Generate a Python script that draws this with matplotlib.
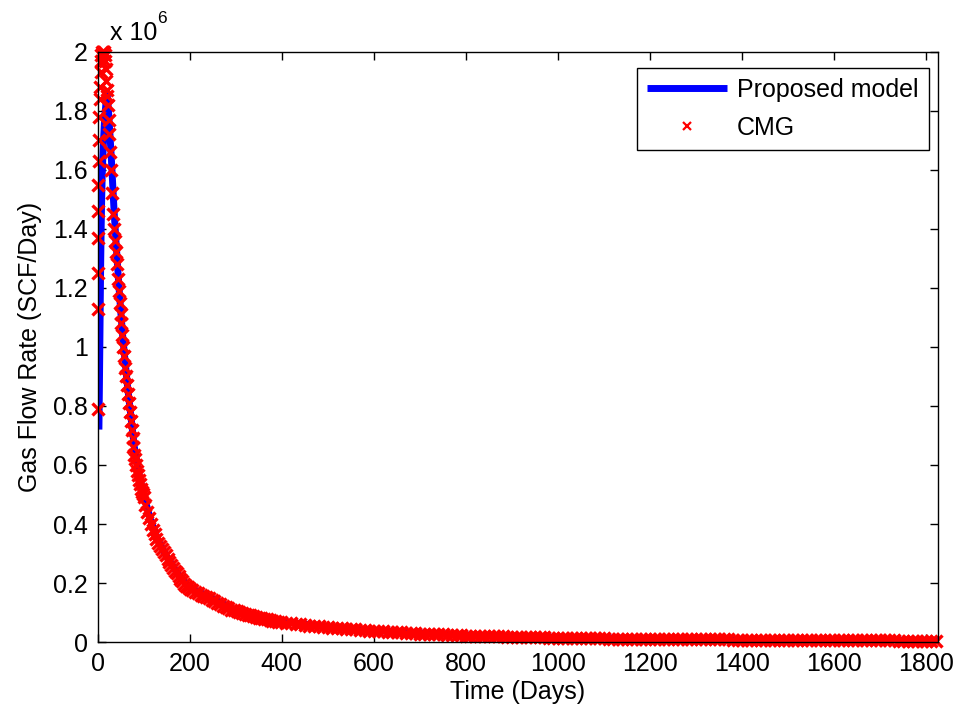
import numpy as np
import matplotlib
matplotlib.use("Agg")
import matplotlib.pyplot as plt
from matplotlib.ticker import FuncFormatter

# =========================
# data (rates in 1e6 SCF/Day)
# =========================
model_days = [3, 4, 5, 6, 7, 8, 9, 10, 11, 12, 13, 14, 15, 16, 17, 18, 19, 20, 21, 22,
              23, 25, 27, 30, 33, 36, 40, 45, 50, 55, 60, 65, 70, 75, 80, 90, 100,
              115, 130, 150, 175, 200, 250, 300, 350, 400, 500, 600, 700, 800, 900,
              1000, 1200, 1400, 1600, 1825]
model_rate = [0.72, 0.85, 1.00, 1.16, 1.30, 1.41, 1.50, 1.57, 1.62, 1.66, 1.70, 1.73,
              1.76, 1.78, 1.80, 1.82, 1.84, 1.85, 1.85, 1.84,
              1.82, 1.77, 1.72, 1.64, 1.55, 1.46, 1.36, 1.24, 1.13, 1.03, 0.95, 0.87,
              0.80, 0.73, 0.66, 0.57, 0.50, 0.415, 0.35, 0.29, 0.23, 0.185, 0.148,
              0.108, 0.085, 0.070, 0.052, 0.040, 0.031, 0.024, 0.020,
              0.016, 0.012, 0.009, 0.007, 0.006]

# CMG: early, irregular report times
cmg_early_days = [0.0, 0.3, 0.6, 1.0, 1.5, 2.0, 2.5, 3.0, 3.5, 4.5, 5.5, 6.5, 7.5, 8.5,
                  10, 11.5, 13, 14.5, 16, 17, 18, 19, 20, 21, 22]
cmg_early_rate = [0.79, 1.13, 1.25, 1.37, 1.46, 1.55, 1.63, 1.70, 1.78, 1.84, 1.88, 1.93,
                  1.97, 1.99, 2.00, 2.00, 2.00, 2.00, 1.99, 1.97, 1.94, 1.90, 1.87, 1.85,
                  1.82]

# CMG: 24-100 days, every 2 days
cmg_mid_days = list(range(24, 101, 2))
cmg_mid_rate = [1.77, 1.72, 1.66, 1.60, 1.52, 1.45, 1.40, 1.36, 1.32, 1.28,
                1.23, 1.19, 1.15, 1.11, 1.08, 1.04, 1.00, 0.97, 0.93, 0.90,
                0.87, 0.84, 0.81, 0.78, 0.75, 0.72, 0.69, 0.66, 0.635, 0.62,
                0.60, 0.58, 0.565, 0.55, 0.535, 0.52, 0.51, 0.50, 0.49]

# CMG: 104-200 days, every 4 days
cmg_late_days = list(range(104, 201, 4))
cmg_late_rate = [0.465, 0.44, 0.42, 0.40, 0.38, 0.365, 0.35, 0.335, 0.325, 0.315,
                 0.305, 0.295, 0.283, 0.272, 0.262, 0.252, 0.242, 0.233, 0.224, 0.214,
                 0.206, 0.198, 0.191, 0.185, 0.179]

# CMG: 206-398 days, every 6 days
cmg_decl_days = list(range(206, 399, 6))
cmg_decl_rate = [0.175, 0.170, 0.166, 0.161, 0.156, 0.152, 0.148, 0.144, 0.139, 0.134,
                 0.128, 0.123, 0.118, 0.114, 0.110, 0.107, 0.104, 0.101, 0.098, 0.096,
                 0.093, 0.091, 0.088, 0.086, 0.083, 0.081, 0.079, 0.077, 0.075, 0.073,
                 0.071, 0.069, 0.068]

# CMG: 410-1820 days, every 10 days (thousand SCF/Day)
cmg_tail_days = list(range(410, 1821, 10))
cmg_tail_kscf = [66, 64, 62, 60, 58, 56, 55, 53, 52, 50,
                 49, 47, 46, 45, 44, 43, 42, 40, 39, 38,
                 37, 36, 35, 35, 34, 33, 32, 31, 30, 29,
                 29, 28, 27, 27, 26, 25, 25, 24, 23, 22,
                 22, 22, 21, 21, 20, 20, 19, 19, 18, 18,
                 18, 17, 17, 17, 16, 16, 16, 15, 15, 15,
                 15, 14, 14, 14, 14, 13, 13, 13, 13, 13,
                 12, 12, 12, 12, 12, 12, 11, 11, 11, 11,
                 11, 11, 10, 10, 10, 10, 10, 10, 10, 9,
                 9, 9, 9, 9, 9, 9, 9, 8, 8, 8,
                 8, 8, 8, 8, 8, 8, 8, 7, 7, 7,
                 7, 7, 7, 7, 7, 7, 7, 7, 7, 6,
                 6, 6, 6, 6, 6, 6, 6, 6, 6, 6,
                 6, 6, 6, 5, 5, 5, 5, 5, 5, 5,
                 5, 5]

cmg_days = np.array(cmg_early_days + cmg_mid_days + cmg_late_days + cmg_decl_days
                    + cmg_tail_days)
cmg_rate = np.array(cmg_early_rate + cmg_mid_rate + cmg_late_rate + cmg_decl_rate
                    + [v / 1000 for v in cmg_tail_kscf]) * 1e6

x_ticks = list(range(0, 1801, 200))
y_ticks = [i * 0.2e6 for i in range(11)]

# =========================
# plot
# =========================
fs = 18
plt.rcParams["font.family"] = ["Liberation Sans", "DejaVu Sans"]
plt.rcParams["font.size"] = fs

fig = plt.figure(figsize=(9.56, 7.19), dpi=100)
ax = fig.add_axes([0.102, 0.107, 0.879, 0.821])

ax.plot(model_days, np.array(model_rate) * 1e6, color="#0000ff", lw=5,
        solid_capstyle="butt", label="Proposed model")
ax.plot(cmg_days, cmg_rate, "x", color="#ff0000", ms=8, mew=2.4,
        clip_on=False, label="CMG")

ax.set_xlim(0, 1825)
ax.set_ylim(0, 2e6)
ax.set_xticks(x_ticks)
ax.set_yticks(y_ticks)
ax.yaxis.set_major_formatter(FuncFormatter(lambda v, p: "%g" % round(v / 1e6, 1)))
ax.tick_params(direction="in", length=6, width=1, top=True, right=True,
               labelsize=fs, pad=7)
for s in ax.spines.values():
    s.set_linewidth(1.0)

ax.set_xlabel("Time (Days)", fontsize=fs, labelpad=3)
ax.set_ylabel("Gas Flow Rate (SCF/Day)", fontsize=fs, labelpad=8)

ax.text(0.0148, 1.012, "x 10", transform=ax.transAxes, fontsize=fs,
        ha="left", va="bottom")
ax.text(0.0715, 1.043, "6", transform=ax.transAxes, fontsize=12.5,
        ha="left", va="bottom")

leg = ax.legend(loc="upper right", bbox_to_anchor=(0.989, 0.973), borderaxespad=0,
                fancybox=False, edgecolor="black", framealpha=1,
                handlelength=3.2, handletextpad=0.37, labelspacing=0.55,
                borderpad=0.42, fontsize=fs, markerscale=0.8)
leg.get_frame().set_linewidth(1.0)
leg.legend_handles[1].set_markeredgewidth(1.6)

fig.savefig("out.png", dpi=100)
plt.close(fig)
